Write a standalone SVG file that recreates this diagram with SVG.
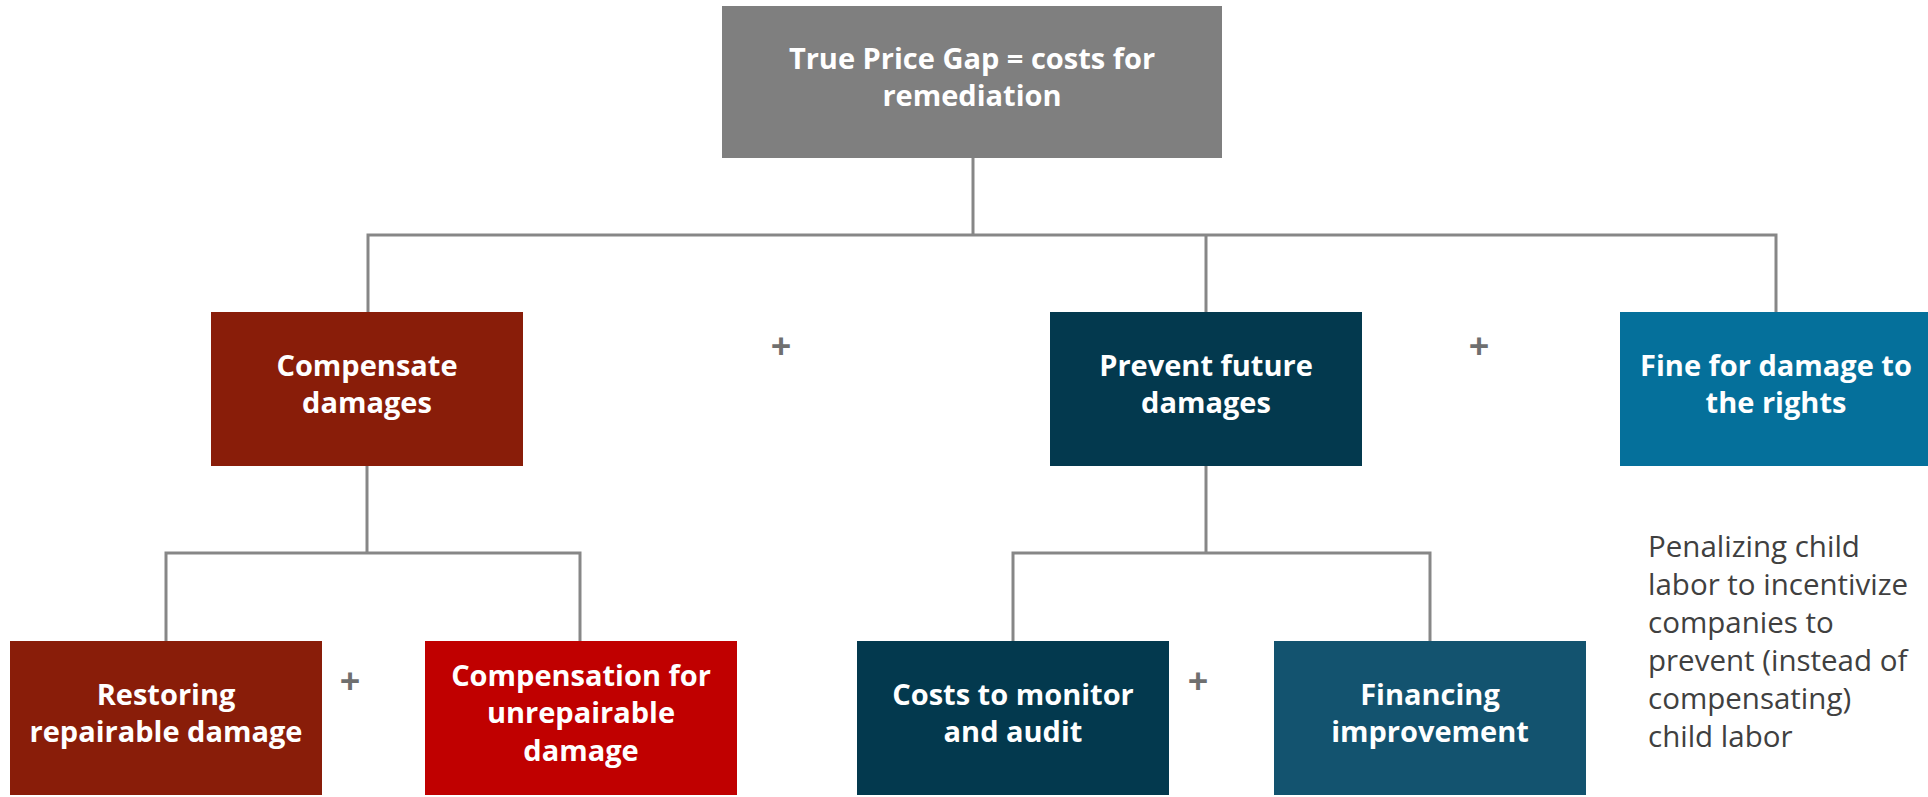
<svg xmlns="http://www.w3.org/2000/svg" width="1928" height="797" viewBox="0 0 1928 797">
<style>
.lbl{font-family:"Open Sans","Liberation Sans",sans-serif;font-weight:700;font-size:29px;fill:#ffffff;text-anchor:middle}
.desc{font-family:"Open Sans","Liberation Sans",sans-serif;font-weight:400;font-size:29.5px;fill:#404040}
.plus{font-family:"Open Sans","Liberation Sans",sans-serif;font-weight:700;font-size:36px;fill:#6f6f6f;text-anchor:middle}
.conn{fill:none;stroke:#878787;stroke-width:3;stroke-linejoin:miter}
</style>
<rect width="1928" height="797" fill="#ffffff"/>
<g id="connectors">
<path class="conn" d="M973,158 V235 M368,312 V235 H1776 V312 M1206,235 V312"/>
<path class="conn" d="M367,466 V553 M166,641 V553 H580 V641"/>
<path class="conn" d="M1206,466 V553 M1013,641 V553 H1430 V641"/>
</g>
<g id="node-root">
<rect x="722" y="6" width="500" height="152" fill="#7f7f7f"/>
<text class="lbl" x="972" y="69">True Price Gap = costs for</text>
<text class="lbl" x="972" y="106">remediation</text>
</g>
<g id="node-compensate">
<rect x="211" y="312" width="312" height="154" fill="#891d09"/>
<text class="lbl" x="367" y="376">Compensate</text>
<text class="lbl" x="367" y="413">damages</text>
</g>
<g id="node-prevent">
<rect x="1050" y="312" width="312" height="154" fill="#03394e"/>
<text class="lbl" x="1206" y="376">Prevent future</text>
<text class="lbl" x="1206" y="413">damages</text>
</g>
<g id="node-fine">
<rect x="1620" y="312" width="312" height="154" fill="#05709b"/>
<text class="lbl" x="1776" y="376">Fine for damage to</text>
<text class="lbl" x="1776" y="413">the rights</text>
</g>
<g id="node-restoring">
<rect x="10" y="641" width="312" height="154" fill="#891d09"/>
<text class="lbl" x="166" y="705">Restoring</text>
<text class="lbl" x="166" y="742">repairable damage</text>
</g>
<g id="node-compensation">
<rect x="425" y="641" width="312" height="154" fill="#c00000"/>
<text class="lbl" x="581" y="686">Compensation for</text>
<text class="lbl" x="581" y="723">unrepairable</text>
<text class="lbl" x="581" y="761">damage</text>
</g>
<g id="node-costs">
<rect x="857" y="641" width="312" height="154" fill="#03394e"/>
<text class="lbl" x="1013" y="705">Costs to monitor</text>
<text class="lbl" x="1013" y="742">and audit</text>
</g>
<g id="node-financing">
<rect x="1274" y="641" width="312" height="154" fill="#13536f"/>
<text class="lbl" x="1430" y="705">Financing</text>
<text class="lbl" x="1430" y="742">improvement</text>
</g>
<g id="node-description">
<text class="desc" x="1648" y="557">Penalizing child</text>
<text class="desc" x="1648" y="595">labor to incentivize</text>
<text class="desc" x="1648" y="633">companies to</text>
<text class="desc" x="1648" y="671">prevent (instead of</text>
<text class="desc" x="1648" y="709">compensating)</text>
<text class="desc" x="1648" y="747">child labor</text>
</g>
<g id="plus-signs">
<text class="plus" x="781" y="359">+</text>
<text class="plus" x="1479" y="359">+</text>
<text class="plus" x="350" y="694">+</text>
<text class="plus" x="1198" y="694">+</text>
</g>
</svg>
